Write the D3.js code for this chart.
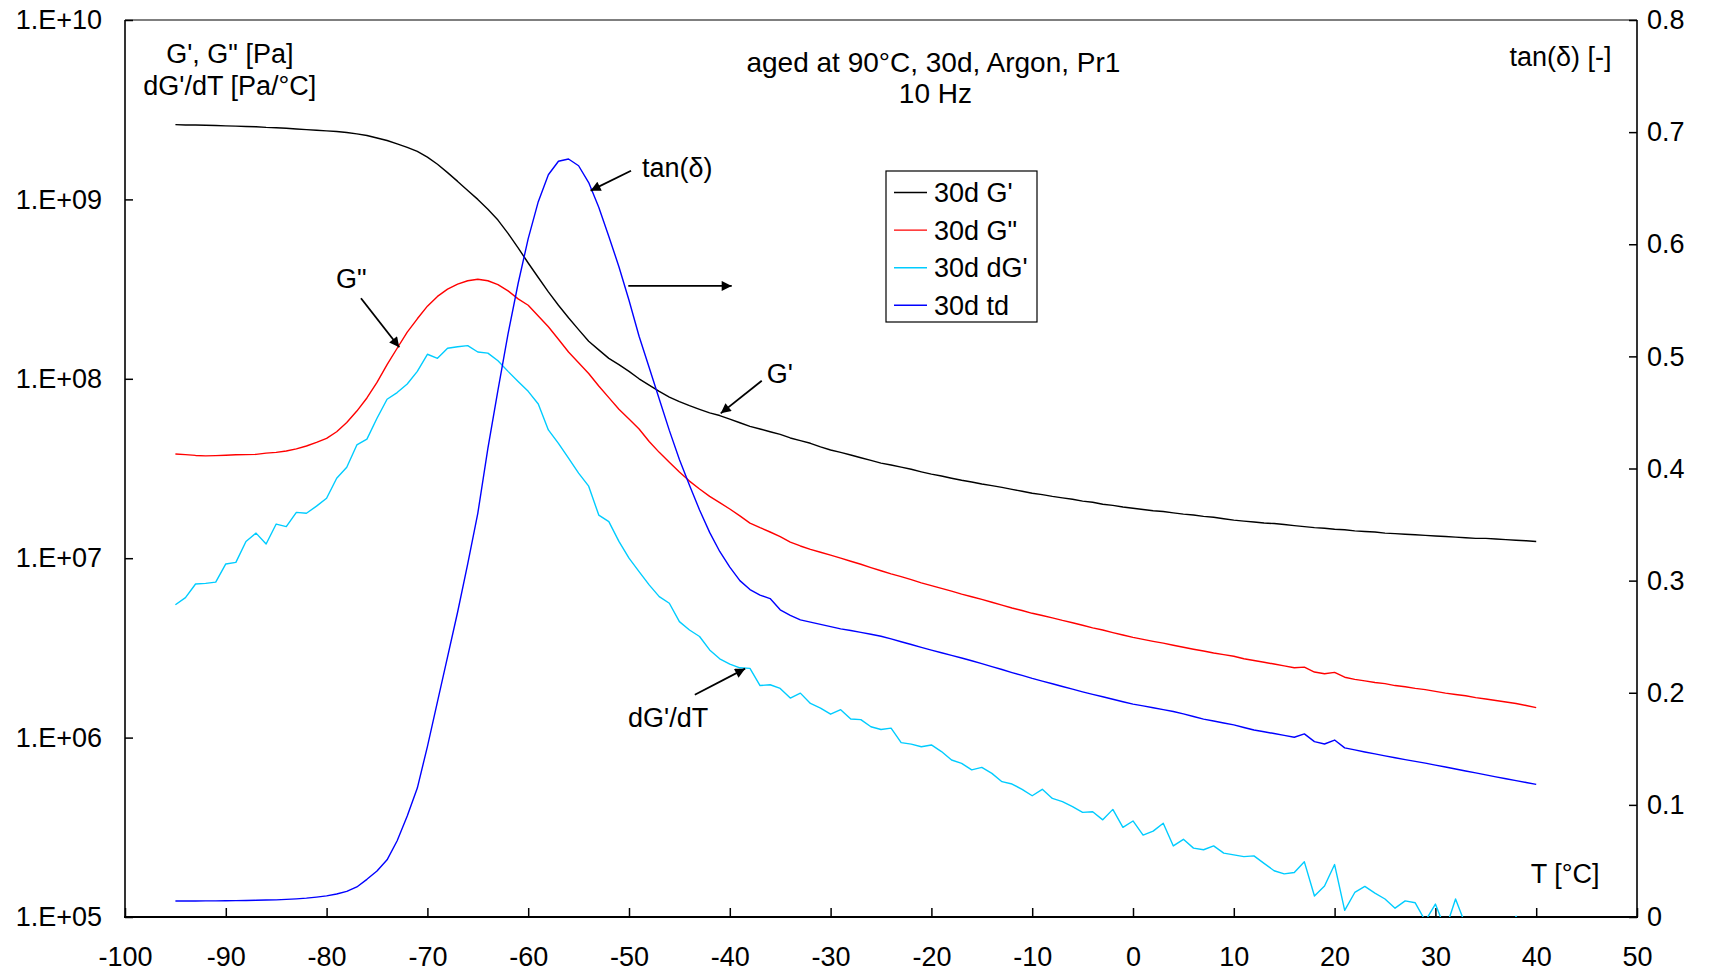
<!DOCTYPE html>
<html>
<head>
<meta charset="utf-8">
<script src="https://cdn.jsdelivr.net/npm/d3@7"></script>
<style>
  html, body { margin: 0; padding: 0; background: #fff; }
  svg { display: block; }
  text { font-family: "Liberation Sans", Arial, sans-serif; }
</style>
</head>
<body>
<script>
// ---------------- DATA ----------------
const temps = [
  -95,-94,-93,-92,-91,-90,-89,-88,-87,-86,
  -85,-84,-83,-82,-81,-80,-79,-78,-77,-76,
  -75,-74,-73,-72,-71,-70,-69,-68,-67,-66,
  -65,-64,-63,-62,-61,-60,-59,-58,-57,-56,
  -55,-54,-53,-52,-51,-50,-49,-48,-47,-46,
  -45,-44,-43,-42,-41,-40,-39,-38,-37,-36,
  -35,-34,-33,-32,-31,-30,-29,-28,-27,-26,
  -25,-24,-23,-22,-21,-20,-19,-18,-17,-16,
  -15,-14,-13,-12,-11,-10,-9,-8,-7,-6,
  -5,-4,-3,-2,-1,0,1,2,3,4,
  5,6,7,8,9,10,11,12,13,14,
  15,16,17,18,19,20,21,22,23,24,
  25,26,27,28,29,30,31,32,33,34,
  35,36,37,38,39,40
];

// 30d G' [Pa]
const gPrime = [
  2.61e9,2.60e9,2.60e9,2.59e9,2.58e9,2.57e9,2.56e9,2.55e9,2.54e9,2.52e9,
  2.51e9,2.49e9,2.47e9,2.45e9,2.43e9,2.41e9,2.39e9,2.36e9,2.32e9,2.27e9,
  2.20e9,2.13e9,2.04e9,1.95e9,1.85e9,1.72e9,1.57e9,1.41e9,1.26e9,1.12e9,
  1.00e9,8.81e8,7.67e8,6.46e8,5.37e8,4.42e8,3.67e8,3.05e8,2.57e8,2.19e8,
  1.88e8,1.62e8,1.45e8,1.30e8,1.20e8,1.10e8,1.00e8,9.23e7,8.51e7,7.91e7,
  7.46e7,7.08e7,6.76e7,6.46e7,6.24e7,5.96e7,5.69e7,5.43e7,5.25e7,5.07e7,
  4.90e7,4.68e7,4.52e7,4.37e7,4.17e7,4.01e7,3.89e7,3.76e7,3.63e7,3.51e7,
  3.39e7,3.31e7,3.22e7,3.13e7,3.03e7,2.94e7,2.87e7,2.79e7,2.72e7,2.66e7,
  2.59e7,2.54e7,2.48e7,2.42e7,2.36e7,2.30e7,2.26e7,2.21e7,2.17e7,2.13e7,
  2.08e7,2.05e7,2.00e7,1.97e7,1.93e7,1.90e7,1.87e7,1.84e7,1.82e7,1.79e7,
  1.76e7,1.74e7,1.71e7,1.69e7,1.66e7,1.63e7,1.61e7,1.59e7,1.57e7,1.56e7,
  1.54e7,1.52e7,1.50e7,1.48e7,1.47e7,1.45e7,1.44e7,1.42e7,1.41e7,1.40e7,
  1.38e7,1.37e7,1.36e7,1.35e7,1.34e7,1.33e7,1.32e7,1.31e7,1.30e7,1.29e7,
  1.29e7,1.28e7,1.27e7,1.26e7,1.25e7,1.24e7
];

// 30d G'' [Pa]
const gDouble = [
  3.81e7,3.78e7,3.74e7,3.72e7,3.73e7,3.75e7,3.77e7,3.78e7,3.79e7,3.85e7,
  3.89e7,3.96e7,4.07e7,4.22e7,4.42e7,4.66e7,5.07e7,5.71e7,6.61e7,7.82e7,
  9.55e7,1.20e8,1.48e8,1.82e8,2.16e8,2.54e8,2.88e8,3.16e8,3.37e8,3.52e8,
  3.59e8,3.52e8,3.35e8,3.09e8,2.79e8,2.57e8,2.24e8,1.95e8,1.66e8,1.41e8,
  1.23e8,1.07e8,9.12e7,7.85e7,6.76e7,5.96e7,5.25e7,4.47e7,3.89e7,3.43e7,
  3.02e7,2.69e7,2.43e7,2.21e7,2.04e7,1.88e7,1.72e7,1.57e7,1.48e7,1.40e7,
  1.32e7,1.23e7,1.17e7,1.12e7,1.08e7,1.04e7,1.00e7,9.62e6,9.25e6,8.87e6,
  8.51e6,8.18e6,7.89e6,7.59e6,7.29e6,7.03e6,6.79e6,6.55e6,6.31e6,6.10e6,
  5.89e6,5.68e6,5.48e6,5.28e6,5.11e6,4.93e6,4.79e6,4.65e6,4.50e6,4.37e6,
  4.23e6,4.09e6,3.98e6,3.85e6,3.73e6,3.62e6,3.53e6,3.44e6,3.36e6,3.27e6,
  3.19e6,3.11e6,3.04e6,2.96e6,2.90e6,2.84e6,2.75e6,2.69e6,2.63e6,2.57e6,
  2.51e6,2.45e6,2.47e6,2.32e6,2.27e6,2.31e6,2.17e6,2.11e6,2.07e6,2.03e6,
  2.00e6,1.95e6,1.92e6,1.88e6,1.85e6,1.81e6,1.77e6,1.74e6,1.71e6,1.67e6,
  1.64e6,1.61e6,1.58e6,1.55e6,1.51e6,1.47e6
];

// 30d dG'/dT [Pa/°C]
const dGdT = [
  5.50e6,6.03e6,7.18e6,7.24e6,7.36e6,9.29e6,9.48e6,1.24e7,1.38e7,1.20e7,
  1.55e7,1.50e7,1.80e7,1.78e7,1.95e7,2.16e7,2.79e7,3.21e7,4.28e7,4.61e7,
  6.03e7,7.69e7,8.38e7,9.35e7,1.10e8,1.37e8,1.30e8,1.48e8,1.51e8,1.53e8,
  1.41e8,1.39e8,1.26e8,1.10e8,9.66e7,8.51e7,7.24e7,5.19e7,4.37e7,3.61e7,
  2.98e7,2.52e7,1.74e7,1.60e7,1.24e7,1.00e7,8.41e6,7.10e6,6.11e6,5.61e6,
  4.43e6,3.98e6,3.66e6,3.08e6,2.75e6,2.57e6,2.45e6,2.43e6,1.95e6,1.97e6,
  1.88e6,1.66e6,1.77e6,1.55e6,1.46e6,1.35e6,1.43e6,1.27e6,1.26e6,1.15e6,
  1.11e6,1.13e6,9.38e5,9.20e5,8.89e5,9.10e5,8.36e5,7.50e5,7.19e5,6.61e5,
  6.82e5,6.32e5,5.68e5,5.51e5,5.15e5,4.74e5,5.15e5,4.58e5,4.40e5,4.12e5,
  3.83e5,3.86e5,3.48e5,3.98e5,3.16e5,3.43e5,2.86e5,3.01e5,3.33e5,2.49e5,
  2.71e5,2.42e5,2.37e5,2.49e5,2.27e5,2.22e5,2.17e5,2.19e5,1.99e5,1.81e5,
  1.74e5,1.77e5,2.03e5,1.31e5,1.49e5,1.96e5,1.09e5,1.37e5,1.48e5,1.36e5,
  1.26e5,1.12e5,1.23e5,1.20e5,9.5e4,1.18e5,8.5e4,1.26e5,9.0e4,7.0e4,
  6.0e4,7.0e4,8.0e4,1.01e5,8.0e4,7.0e4
];

// 30d tan(delta) [-]
const tanDelta = [
  0.0143,0.0143,0.0143,0.0144,0.0144,0.0145,0.0146,0.0147,0.0149,0.0151,
  0.0153,0.0157,0.0162,0.0168,0.0177,0.0188,0.0205,0.0228,0.0268,0.0336,
  0.041,0.051,0.068,0.090,0.115,0.152,0.192,0.232,0.272,0.315,
  0.360,0.418,0.470,0.520,0.565,0.605,0.638,0.662,0.674,0.676,
  0.670,0.655,0.633,0.607,0.580,0.550,0.518,0.490,0.462,0.434,
  0.408,0.385,0.363,0.343,0.326,0.312,0.300,0.292,0.287,0.284,
  0.274,0.269,0.265,0.263,0.261,0.259,0.257,0.2555,0.2538,0.2522,
  0.2504,0.248,0.2455,0.243,0.2405,0.238,0.2357,0.2333,0.231,0.2285,
  0.226,0.2233,0.2207,0.218,0.2155,0.2128,0.2104,0.208,0.2056,0.2032,
  0.2008,0.1986,0.1964,0.1942,0.192,0.1899,0.1883,0.1866,0.185,0.1833,
  0.1812,0.1788,0.1765,0.1748,0.173,0.1713,0.169,0.1668,0.1652,0.1636,
  0.162,0.1603,0.1633,0.1564,0.1543,0.1578,0.1508,0.149,0.1472,0.1455,
  0.1437,0.142,0.1404,0.1388,0.1372,0.1355,0.1338,0.132,0.1302,0.1285,
  0.1268,0.125,0.1233,0.1216,0.12,0.1183
];

const xTicks = [-100,-90,-80,-70,-60,-50,-40,-30,-20,-10,0,10,20,30,40,50];
const xTickLabels = ["-100","-90","-80","-70","-60","-50","-40","-30","-20","-10","0","10","20","30","40","50"];
const yLeftTicks = [1e5,1e6,1e7,1e8,1e9,1e10];
const yLeftLabels = ["1.E+05","1.E+06","1.E+07","1.E+08","1.E+09","1.E+10"];
const yRightTicks = [0,0.1,0.2,0.3,0.4,0.5,0.6,0.7,0.8];
const yRightLabels = ["0","0.1","0.2","0.3","0.4","0.5","0.6","0.7","0.8"];

const seriesNames = ["30d G'", "30d G\"", "30d dG'", "30d td"];
const seriesColors = ["#000000", "#ff0000", "#00ccff", "#0000ff"];

// annotation texts, placed in data units (T, right-axis value)
const noteTexts = ["aged at 90°C, 30d, Argon, Pr1", "10 Hz", "G', G\" [Pa]", "dG'/dT [Pa/°C]",
                   "tan(δ) [-]", "T [°C]", "tan(δ)", "G\"", "G'", "dG'/dT"];
const noteT = [-19.8, -19.6, -89.6, -89.6, 47.48, 46.29, -48.71, -79.07, -36.34, -50.1];
const noteV = [0.7534, 0.7257, 0.7619, 0.7331, 0.759, 0.0303, 0.6597, 0.5607, 0.4765, 0.1695];
const noteAnchor = ["middle","middle","middle","middle","end","end","start","start","start","start"];
const noteSize = [28, 28, 27, 27, 27, 27, 27, 27, 27, 27];

// arrows (from -> to) in data units (T, right-axis value)
const arrowT1 = [-49.8, -50.07, -76.59, -36.83, -43.47];
const arrowV1 = [0.6656, 0.5628, 0.5518, 0.4783, 0.1982];
const arrowT2 = [-53.81, -39.81, -72.79, -40.90, -38.48];
const arrowV2 = [0.6478, 0.5628, 0.5081, 0.4492, 0.2215];

// ---------------- CHART ----------------
const W = 1713, H = 975;
const plot = { left: 125, right: 1637, top: 20, bottom: 917 };
const FONT = 27;

const svg = d3.select("body").append("svg").attr("width", W).attr("height", H);
svg.append("rect").attr("width", W).attr("height", H).attr("fill", "#fff");

const x = d3.scaleLinear().domain([-100, 50]).range([plot.left, plot.right]);
const yL = d3.scaleLog().domain([1e5, 1e10]).range([plot.bottom, plot.top]);
const yR = d3.scaleLinear().domain([0, 0.8]).range([plot.bottom, plot.top]);

const defs = svg.append("defs");
defs.append("clipPath").attr("id", "plotClip")
  .append("rect")
  .attr("x", plot.left).attr("y", plot.top)
  .attr("width", plot.right - plot.left).attr("height", plot.bottom - plot.top);

defs.append("marker")
  .attr("id", "arrowHead")
  .attr("viewBox", "0 0 10 10")
  .attr("refX", 10).attr("refY", 5)
  .attr("markerWidth", 12).attr("markerHeight", 10)
  .attr("markerUnits", "userSpaceOnUse")
  .attr("orient", "auto")
  .append("path").attr("d", "M0,0 L10,5 L0,10 Z").attr("fill", "#000");

// axes
function styleAxis(g) {
  g.select(".domain").remove();
  g.selectAll(".tick line").attr("stroke", "#000").attr("stroke-width", 1.5);
  g.selectAll(".tick text").attr("font-size", FONT).attr("fill", "#000")
    .attr("font-family", "'Liberation Sans', Arial, sans-serif");
  g.attr("font-size", FONT).attr("font-family", "'Liberation Sans', Arial, sans-serif");
}

svg.append("g")
  .attr("transform", `translate(0,${plot.bottom})`)
  .call(d3.axisBottom(x).tickValues(xTicks)
    .tickFormat((d, i) => xTickLabels[i])
    .tickSizeInner(-9).tickSizeOuter(0).tickPadding(30))
  .call(styleAxis);

svg.append("g")
  .attr("transform", `translate(${plot.left},0)`)
  .call(d3.axisLeft(yL).tickValues(yLeftTicks)
    .tickFormat((d, i) => yLeftLabels[i])
    .tickSizeInner(-8).tickSizeOuter(0).tickPadding(23))
  .call(styleAxis);

svg.append("g")
  .attr("transform", `translate(${plot.right},0)`)
  .call(d3.axisRight(yR).tickValues(yRightTicks)
    .tickFormat((d, i) => yRightLabels[i])
    .tickSizeInner(-8).tickSizeOuter(0).tickPadding(10))
  .call(styleAxis);

// frame
const frame = svg.append("g").attr("stroke", "#000").attr("fill", "none");
frame.append("line").attr("x1", plot.left).attr("x2", plot.right).attr("y1", plot.top).attr("y2", plot.top).attr("stroke-width", 1.2);
frame.append("line").attr("x1", plot.left).attr("x2", plot.left).attr("y1", plot.top).attr("y2", plot.bottom).attr("stroke-width", 1.6);
frame.append("line").attr("x1", plot.right).attr("x2", plot.right).attr("y1", plot.top).attr("y2", plot.bottom).attr("stroke-width", 1.6);
frame.append("line").attr("x1", plot.left - 1).attr("x2", plot.right + 1).attr("y1", plot.bottom).attr("y2", plot.bottom).attr("stroke-width", 2.2);

// series
const series = [
  { vals: gPrime, scale: yL, color: seriesColors[0] },
  { vals: gDouble, scale: yL, color: seriesColors[1] },
  { vals: dGdT, scale: yL, color: seriesColors[2] },
  { vals: tanDelta, scale: yR, color: seriesColors[3] }
];

const lines = svg.append("g").attr("clip-path", "url(#plotClip)");
series.forEach(s => {
  const gen = d3.line()
    .x((d, i) => x(temps[i]))
    .y(d => s.scale(d));
  lines.append("path")
    .attr("d", gen(s.vals))
    .attr("fill", "none")
    .attr("stroke", s.color)
    .attr("stroke-width", 1.4)
    .attr("stroke-linejoin", "round");
});

// annotations
const notes = svg.append("g").attr("fill", "#000");
noteTexts.forEach((t, i) => {
  notes.append("text")
    .attr("x", x(noteT[i]))
    .attr("y", yR(noteV[i]))
    .attr("font-size", noteSize[i])
    .attr("text-anchor", noteAnchor[i])
    .text(t);
});

const arrows = svg.append("g").attr("stroke", "#000").attr("stroke-width", 1.8);
arrowT1.forEach((t, i) => {
  arrows.append("line")
    .attr("x1", x(t)).attr("y1", yR(arrowV1[i]))
    .attr("x2", x(arrowT2[i])).attr("y2", yR(arrowV2[i]))
    .attr("marker-end", "url(#arrowHead)");
});

// legend
const lg = { x: 886, y: 171, w: 151, h: 151, rowH: 37.6, firstRow: 21.5 };
const legend = svg.append("g").attr("transform", `translate(${lg.x},${lg.y})`);
legend.append("rect")
  .attr("width", lg.w).attr("height", lg.h)
  .attr("fill", "#fff").attr("stroke", "#000").attr("stroke-width", 1.2);
seriesNames.forEach((name, i) => {
  const cy = lg.firstRow + i * lg.rowH;
  legend.append("line")
    .attr("x1", 8).attr("x2", 41).attr("y1", cy).attr("y2", cy)
    .attr("stroke", seriesColors[i]).attr("stroke-width", 1.4);
  legend.append("text")
    .attr("x", 48).attr("y", cy + 9.5)
    .attr("font-size", FONT).attr("fill", "#000")
    .text(name);
});
</script>
</body>
</html>
